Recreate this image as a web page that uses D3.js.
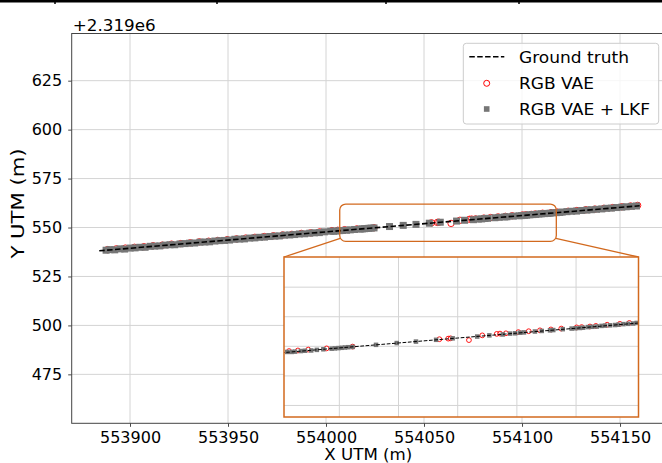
<!DOCTYPE html>
<html>
<head>
<meta charset="utf-8">
<script src="https://cdn.jsdelivr.net/npm/d3@7"></script>
<style>
  body { margin: 0; background: #fff; }
  svg { display: block; font-family: "DejaVu Sans", sans-serif; }
</style>
</head>
<body>
<div id="chart"></div>
<script>
// y values are given relative to the axis offset +2.319e6
const yOffsetLabel = "+2.319e6";

const xTicks = [553900, 553950, 554000, 554050, 554100, 554150];
const yTicks = [475, 500, 525, 550, 575, 600, 625];
const insetXTicks = [554020, 554040, 554060, 554080, 554100];
const insetYTicks = [530, 540, 550, 560, 570];

const seriesNames = ["Ground truth", "RGB VAE", "RGB VAE + LKF"];

// ground truth track
const gtX = [553884.3, 554060.0, 554160.0];
const gtY = [538.1, 552.8, 561.1];

// RGB VAE + LKF estimates (grey squares)
const lkfX = [553887.8, 553889.8, 553892.2, 553894.9, 553897.3, 553900.1, 553902.6, 553905.0, 553907.7, 553910.3,
  553912.6, 553915.2, 553917.9, 553920.4, 553922.8, 553925.5, 553928.1, 553930.4, 553933.0, 553935.7,
  553938.2, 553940.6, 553943.3, 553945.9, 553948.2, 553950.8, 553953.5, 553956.0, 553958.4, 553961.1,
  553963.7, 553966.1, 553968.6, 553971.3, 553973.9, 553976.2, 553978.8, 553981.5, 553984.0, 553986.4,
  553989.1, 553991.7, 553994.1, 553996.6, 553999.2,
  554002.4, 554003.9, 554005.0, 554007.0, 554008.4, 554010.5, 554012.4, 554014.6, 554017.4, 554018.5,
  554019.7, 554020.8, 554021.9, 554023.0, 554024.5, 554032.4, 554039.4, 554045.9, 554052.7, 554058.3,
  554066.6, 554070.7, 554075.2, 554077.7, 554079.4, 554081.1, 554082.4, 554086.1, 554088.4, 554091.2,
  554092.3, 554095.5, 554098.5, 554099.8, 554101.3, 554102.4, 554104.0, 554105.5, 554107.0, 554108.6,
  554109.8, 554111.5, 554113.2, 554114.3, 554116.0, 554117.6, 554119.3, 554120.5,
  554122.9, 554125.4, 554127.8, 554130.5, 554133.1, 554135.4, 554138.0, 554140.7, 554143.2, 554145.6,
  554148.3, 554150.9, 554153.2, 554155.8, 554158.4];
const lkfY = [538.4, 538.7, 538.6, 539.1, 539.0, 539.5, 539.6, 539.9, 539.9, 540.4,
  540.5, 540.6, 541.0, 541.2, 541.2, 541.6, 541.8, 542.0, 542.1, 542.5,
  542.6, 542.7, 543.1, 543.3, 543.4, 543.6, 544.0, 544.1, 544.2, 544.6,
  544.7, 545.0, 545.1, 545.4, 545.6, 545.7, 546.1, 546.2, 546.4, 546.7,
  546.8, 547.1, 547.3, 547.4, 547.8,
  548.1, 548.1, 548.2, 548.4, 548.5, 548.6, 548.8, 549.0, 549.2, 549.3,
  549.4, 549.5, 549.6, 549.7, 549.8, 550.5, 551.1, 551.6, 552.2, 552.7,
  553.3, 553.7, 554.0, 554.3, 554.4, 554.6, 554.7, 555.0, 555.2, 555.4,
  555.5, 555.8, 556.0, 556.1, 556.2, 556.3, 556.5, 556.6, 556.7, 556.9,
  557.0, 557.1, 557.2, 557.3, 557.5, 557.6, 557.7, 557.9,
  558.1, 558.3, 558.4, 558.7, 558.9, 559.1, 559.3, 559.5, 559.8, 559.9,
  560.2, 560.4, 560.6, 560.8, 561.0];

// RGB VAE estimates (red circles)
const vaeX = [553888.5, 553893.0, 553897.6, 553902.3, 553907.1, 553911.8, 553916.5, 553921.2, 553925.9, 553930.7,
  553935.4, 553940.1, 553944.8, 553949.6, 553954.3, 553959.0, 553963.7, 553968.5, 553973.2, 553977.9,
  553982.6, 553987.4, 553992.1, 553996.8,
  554003.0, 554006.0, 554009.5, 554015.7, 554024.5, 554053.8, 554056.8, 554057.6, 554063.8, 554068.3,
  554073.2, 554074.3, 554076.3, 554080.5, 554084.0, 554087.8, 554091.5, 554095.0, 554100.2, 554101.9,
  554104.7, 554106.7, 554110.5, 554114.8, 554118.0,
  554123.5, 554128.0, 554132.6, 554137.2, 554141.8, 554146.3, 554150.9, 554155.4, 554159.0];
const vaeY = [538.7, 539.1, 539.5, 539.9, 540.2, 540.7, 541.0, 541.5, 541.8, 542.2,
  542.7, 543.0, 543.4, 543.8, 544.2, 544.6, 545.0, 545.4, 545.8, 546.2,
  546.5, 547.0, 547.3, 547.8,
  548.4, 548.6, 548.9, 549.3, 549.9, 552.4, 552.6, 552.7, 552.1, 553.7,
  554.2, 554.3, 554.4, 554.8, 555.1, 555.4, 555.7, 556.0, 556.4, 556.5,
  556.7, 556.9, 557.3, 557.6, 557.9,
  558.3, 558.7, 559.1, 559.4, 559.8, 560.2, 560.6, 561.0, 561.3];

// area shown in the zoomed inset
const zoomX = [554007.0, 554117.5];
const zoomY = [542.9, 562.0];

const width = 662;
const height = 463;
const orange = "#d2691e";
const gridColor = "#d4d4d4";
const squareFill = "#767676";

const gt = d3.zip(gtX, gtY);
const lkf = d3.zip(lkfX, lkfY);
const vae = d3.zip(vaeX, vaeY);

const svg = d3.select("#chart")
    .append("svg")
    .attr("width", width)
    .attr("height", height);

// strip of the page border above the figure
svg.append("rect").attr("x", 0).attr("y", 0).attr("width", width).attr("height", 2.5).attr("fill", "#000");
[55, 217, 386, 519].forEach(px => {
    svg.append("rect").attr("x", px - 0.75).attr("y", 0).attr("width", 1.5).attr("height", 4).attr("fill", "#000");
});

// main axes (equal aspect, right spine just outside the crop)
const m = { left: 71.7, right: 665, top: 33.5, bottom: 423.3 };
const x = d3.scaleLinear().domain([553870.25, 554172.95]).range([m.left, m.right]);
const y = d3.scaleLinear().domain([450.0, 649.1]).range([m.bottom, m.top]);

svg.append("defs").append("clipPath").attr("id", "clip-main")
    .append("rect")
    .attr("x", m.left).attr("y", m.top)
    .attr("width", m.right - m.left).attr("height", m.bottom - m.top);

// grid
const grid = svg.append("g");
grid.selectAll(".gx").data(xTicks).enter().append("line")
    .attr("x1", d => x(d)).attr("x2", d => x(d))
    .attr("y1", m.top).attr("y2", m.bottom)
    .attr("stroke", gridColor).attr("stroke-width", 1);
grid.selectAll(".gy").data(yTicks).enter().append("line")
    .attr("x1", m.left).attr("x2", m.right)
    .attr("y1", d => y(d)).attr("y2", d => y(d))
    .attr("stroke", gridColor).attr("stroke-width", 1);

// axes
const xAxis = svg.append("g")
    .attr("transform", `translate(0,${m.bottom})`)
    .call(d3.axisBottom(x).tickValues(xTicks).tickFormat(d3.format("d")).tickSize(3.5).tickPadding(4.5));
const yAxis = svg.append("g")
    .attr("transform", `translate(${m.left},0)`)
    .call(d3.axisLeft(y).tickValues(yTicks).tickFormat(d3.format("d")).tickSize(3.5).tickPadding(6));

[xAxis, yAxis].forEach(a => {
    a.select(".domain").remove();
    a.selectAll(".tick line").attr("stroke", "#333").attr("stroke-width", 0.9);
    a.selectAll(".tick text").attr("font-size", 16).attr("fill", "#000")
        .attr("font-family", "DejaVu Sans, sans-serif");
});

// spines
svg.append("rect")
    .attr("x", m.left).attr("y", m.top)
    .attr("width", m.right - m.left).attr("height", m.bottom - m.top)
    .attr("fill", "none").attr("stroke", "#444").attr("stroke-width", 1);

// offset text and axis labels
svg.append("text").attr("x", m.left + 1).attr("y", 31)
    .attr("font-size", 16.5).attr("textLength", 83).attr("lengthAdjust", "spacingAndGlyphs")
    .text(yOffsetLabel);
svg.append("text").attr("x", (m.left + m.right) / 2).attr("y", 459.5)
    .attr("text-anchor", "middle").attr("font-size", 16)
    .attr("textLength", 88).attr("lengthAdjust", "spacingAndGlyphs")
    .text("X UTM (m)");
svg.append("text").attr("transform", "translate(24,203.5) rotate(-90)")
    .attr("text-anchor", "middle").attr("font-size", 17)
    .attr("textLength", 110).attr("lengthAdjust", "spacingAndGlyphs")
    .text("Y UTM (m)");

// data layers of a panel
function drawData(g, sx, sy, sq, r, lw, dash) {
    g.selectAll(".vae").data(vae).enter().append("circle")
        .attr("cx", d => sx(d[0])).attr("cy", d => sy(d[1])).attr("r", r)
        .attr("fill", "none").attr("stroke", "#ff0000").attr("stroke-width", 0.9);
    g.selectAll(".lkf").data(lkf).enter().append("rect")
        .attr("x", d => sx(d[0]) - sq / 2).attr("y", d => sy(d[1]) - sq / 2)
        .attr("width", sq).attr("height", sq)
        .attr("fill", squareFill);
    g.append("path")
        .datum(gt)
        .attr("d", d3.line().x(d => sx(d[0])).y(d => sy(d[1])))
        .attr("fill", "none").attr("stroke", "#000")
        .attr("stroke-width", lw).attr("stroke-dasharray", dash);
}

const main = svg.append("g").attr("clip-path", "url(#clip-main)");
drawData(main, x, y, 7, 3.2, 1.6, "5.5,2.4");

// zoom box on the main axes
svg.append("rect")
    .attr("x", x(zoomX[0])).attr("y", y(zoomY[1]))
    .attr("width", x(zoomX[1]) - x(zoomX[0])).attr("height", y(zoomY[0]) - y(zoomY[1]))
    .attr("rx", 6).attr("ry", 6)
    .attr("fill", "none").attr("stroke", orange).attr("stroke-width", 1.3);

// inset axes
const ins = { left: 284, right: 638.5, top: 257, bottom: 417 };
const ix = d3.scaleLinear().domain([554001.3, 554121.1]).range([ins.left, ins.right]);
const iy = d3.scaleLinear().domain([526.1, 580.2]).range([ins.bottom, ins.top]);

// connectors from the zoom box to the inset
svg.append("line")
    .attr("x1", x(zoomX[0]) + 0.5).attr("y1", y(zoomY[0]) - 3)
    .attr("x2", ins.left).attr("y2", ins.top)
    .attr("stroke", orange).attr("stroke-width", 1.3);
svg.append("line")
    .attr("x1", x(zoomX[1]) - 0.5).attr("y1", y(zoomY[0]) - 3)
    .attr("x2", ins.right).attr("y2", ins.top)
    .attr("stroke", orange).attr("stroke-width", 1.3);

svg.select("defs").append("clipPath").attr("id", "clip-inset")
    .append("rect")
    .attr("x", ins.left).attr("y", ins.top)
    .attr("width", ins.right - ins.left).attr("height", ins.bottom - ins.top);

const inset = svg.append("g");
inset.append("rect")
    .attr("x", ins.left).attr("y", ins.top)
    .attr("width", ins.right - ins.left).attr("height", ins.bottom - ins.top)
    .attr("fill", "#fff");
inset.selectAll(".igx").data(insetXTicks).enter().append("line")
    .attr("x1", d => ix(d)).attr("x2", d => ix(d))
    .attr("y1", ins.top).attr("y2", ins.bottom)
    .attr("stroke", gridColor).attr("stroke-width", 1);
inset.selectAll(".igy").data(insetYTicks).enter().append("line")
    .attr("x1", ins.left).attr("x2", ins.right)
    .attr("y1", d => iy(d)).attr("y2", d => iy(d))
    .attr("stroke", gridColor).attr("stroke-width", 1);

const insetData = inset.append("g").attr("clip-path", "url(#clip-inset)");
drawData(insetData, ix, iy, 4.5, 2.4, 1, "3.7,1.6");

inset.append("rect")
    .attr("x", ins.left).attr("y", ins.top)
    .attr("width", ins.right - ins.left).attr("height", ins.bottom - ins.top)
    .attr("fill", "none").attr("stroke", orange).attr("stroke-width", 1.5);

// legend
const legend = svg.append("g");
legend.append("rect")
    .attr("x", 463.3).attr("y", 43.3).attr("width", 195.4).attr("height", 80.7)
    .attr("rx", 3).attr("ry", 3)
    .attr("fill", "#fff").attr("fill-opacity", 0.8)
    .attr("stroke", "#cccccc").attr("stroke-width", 1);

const rowY = [63.3, 89.3, 115];
const labelLen = [110, 75, 131];
legend.selectAll(".lt").data(seriesNames).enter().append("text")
    .attr("x", 519).attr("y", (d, i) => rowY[i])
    .attr("font-size", 16.5)
    .attr("textLength", (d, i) => labelLen[i]).attr("lengthAdjust", "spacingAndGlyphs")
    .text(d => d);

legend.append("line")
    .attr("x1", 469.3).attr("x2", 504.3).attr("y1", rowY[0] - 6.6).attr("y2", rowY[0] - 6.6)
    .attr("stroke", "#000").attr("stroke-width", 1.5).attr("stroke-dasharray", "5.5,2.4");
legend.append("circle")
    .attr("cx", 486.7).attr("cy", rowY[1] - 6).attr("r", 3)
    .attr("fill", "none").attr("stroke", "#ff0000").attr("stroke-width", 1);
legend.append("rect")
    .attr("x", 486.7 - 2.8).attr("y", rowY[2] - 6 - 2.8).attr("width", 5.6).attr("height", 5.6)
    .attr("fill", squareFill);
</script>
</body>
</html>
